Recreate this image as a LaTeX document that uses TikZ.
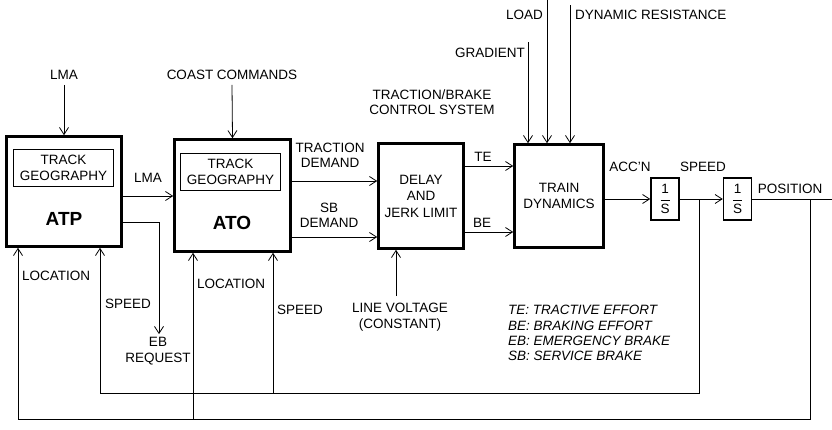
\documentclass[tikz,border=0pt]{standalone}
\usepackage{fontspec}
\setmainfont{Liberation Sans}
\usetikzlibrary{arrows.meta}
\begin{document}
\begin{tikzpicture}[x=1pt,y=-1pt,
  every node/.style={font=\fontsize{13.5}{15.5}\selectfont, inner sep=0pt, align=center},
  blk/.style={draw, line width=2.6pt},
  sub/.style={draw, line width=1.2pt, minimum width=100pt, minimum height=37pt},
  intg/.style={draw, line width=1.5pt, minimum width=28pt, minimum height=42pt},
  big/.style={font=\bfseries\fontsize{19}{21}\selectfont},
  leg/.style={anchor=west, font=\itshape\fontsize{13.5}{15.5}\selectfont},
  ln/.style={line width=0.8pt},
  fb/.style={line width=0.6pt},
  arr/.style={ln, -{Straight Barb[length=7pt,width=9pt]}},
  fbarr/.style={fb, -{Straight Barb[length=7pt,width=9pt,line width=0.8pt]}},
]
\useasboundingbox (0,0) rectangle (832,429);

% main blocks
\node[blk, minimum width=115pt, minimum height=110pt] (atp) at (64,191.5) {};
\node[sub] (atptg) at (63.5,168) {TRACK\\GEOGRAPHY};
\node[big] (atplbl) at (64,219) {ATP};

\node[blk, minimum width=116pt, minimum height=112pt] (ato) at (232.5,195.5) {};
\node[sub] (atotg) at (230.5,172) {TRACK\\GEOGRAPHY};
\node[big] (atolbl) at (232,223) {ATO};

\node[blk, minimum width=85pt, minimum height=105pt, font=\fontsize{13.5}{16.5}\selectfont] (delay) at (421,196) {DELAY\\AND\\JERK LIMIT};
\node[blk, minimum width=89pt, minimum height=103pt, font=\fontsize{13.5}{16}\selectfont] (train) at (559,196) {TRAIN\\DYNAMICS};

\node[intg] (int1) at (665,199) {$\displaystyle\frac{\mbox{1}}{\mbox{S}}$};
\node[intg] (int2) at (737.5,199) {$\displaystyle\frac{\mbox{1}}{\mbox{S}}$};

% top inputs
\node (lmatop) at (64,75) {LMA};
\draw[arr] ([yshift=-5pt]lmatop.south) -- (atp.north);
\node (coast) at (232,75) {COAST COMMANDS};
\draw[arr] ([yshift=-5pt]coast.south) -- (ato.north);

\node (tbcs) at (432,102) {TRACTION/BRAKE\\CONTROL SYSTEM};

\node[anchor=east] (grad) at (525,53) {GRADIENT};
\node[anchor=east] (load) at (543,15) {LOAD};
\node[anchor=west] (dynres) at (575,15) {DYNAMIC RESISTANCE};
\coordinate (gradtop) at (528,42);
\coordinate (loadtop) at (547,0);
\coordinate (dyntop) at (570,5);
\draw[arr] (gradtop) -- (gradtop |- train.north);
\draw[arr] (loadtop) -- (loadtop |- train.north);
\draw[arr] (dyntop) -- (dyntop |- train.north);

% ATP -> ATO
\draw[arr] (atp.east |- 0,196) -- (ato.west |- 0,196);
\node (lmamid) at (148,178) {LMA};

% EB request
\node (eb) at (158,351) {EB\\REQUEST};
\draw[arr] (atp.east |- 0,222) -| ([xshift=1pt,yshift=3pt]eb.north);

% ATO -> delay
\draw[arr] (ato.east |- 0,181) -- (delay.west |- 0,181);
\node (tdem) at (330,155.5) {TRACTION\\DEMAND};
\draw[arr] (ato.east |- 0,237) -- (delay.west |- 0,237);
\node (sbdem) at (329,215.5) {SB\\DEMAND};

% delay -> train
\draw[arr] (delay.east |- 0,166) -- (train.west |- 0,166);
\node (te) at (483,157) {TE};
\draw[arr] (delay.east |- 0,232) -- (train.west |- 0,232);
\node (be) at (482,223) {BE};

% line voltage
\node (lv) at (400,317) {LINE VOLTAGE\\(CONSTANT)};
\coordinate (lvtop) at (396,296);
\draw[arr] (lvtop) -- (lvtop |- delay.south);

% train -> integrators
\draw[arr] (train.east |- int1.west) -- (int1.west);
\node (accn) at (630,167) {ACC'N};
\draw[arr] (int1.east) -- (int2.west);
\node (spdl) at (703,167) {SPEED};
\coordinate (posend) at (832,199);
\draw[ln] (int2.east) -- (posend);
\node (posl) at (790,189) {POSITION};

% feedback loops
\coordinate (spdtap) at (699,199);
\coordinate (loopA) at (100,393);
\coordinate (atospd) at (273,393);
\draw[fbarr] (spdtap) |- (loopA) -- (loopA |- atp.south);
\draw[fbarr] (atospd) -- (atospd |- ato.south);

\coordinate (postap) at (810,199);
\coordinate (loopB) at (18,419);
\coordinate (atoloc) at (193,419);
\draw[fbarr] (postap) |- (loopB) -- (loopB |- atp.south);
\draw[fbarr] (atoloc) -- (atoloc |- ato.south);

\node[anchor=west] (loc1) at (22,276) {LOCATION};
\node[anchor=west] (spd1) at (105,304) {SPEED};
\node[anchor=west] (loc2) at (197,284) {LOCATION};
\node[anchor=west] (spd2) at (277,310) {SPEED};

% legend
\node[leg] (l1) at (508,310) {TE: TRACTIVE EFFORT};
\node[leg] (l2) at (508,325.5) {BE: BRAKING EFFORT};
\node[leg] (l3) at (508,341) {EB: EMERGENCY BRAKE};
\node[leg] (l4) at (508,356) {SB: SERVICE BRAKE};
\end{tikzpicture}
\end{document}
